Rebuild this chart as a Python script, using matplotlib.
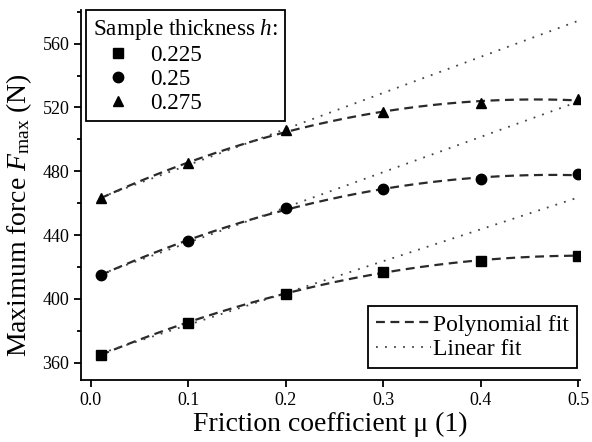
import matplotlib
matplotlib.use("Agg")
import matplotlib.pyplot as plt
from matplotlib.lines import Line2D
from matplotlib.ticker import MultipleLocator
import numpy as np

plt.rcParams['font.family'] = ['Liberation Serif', 'DejaVu Serif']
plt.rcParams['mathtext.fontset'] = 'custom'
plt.rcParams['mathtext.rm'] = 'Liberation Serif'
plt.rcParams['mathtext.it'] = 'Liberation Serif:italic'

# friction coefficient and max force for each sample thickness
mu = np.array([0.01, 0.1, 0.2, 0.3, 0.4, 0.5])
f_0225 = np.array([365, 385, 403, 417, 424, 427])
f_025 = np.array([415, 436, 457, 469, 475, 478])
f_0275 = np.array([463, 485, 506, 517, 523, 525])
thickness = ['0.225', '0.25', '0.275']
markers = ['s', 'o', '^']

fig = plt.figure(figsize=(5.92, 4.42), dpi=100)
ax = fig.add_axes([0.137, 0.140, 0.843, 0.837])

mu_fine = np.linspace(0.01, 0.5, 200)
for f, m in zip([f_0225, f_025, f_0275], markers):
    # quadratic over all points, straight line over the first three
    poly = np.polyfit(mu, f, 2)
    lin = np.polyfit(mu[:3], f[:3], 1)
    ax.plot(mu_fine, np.polyval(poly, mu_fine), color='#2a2a2a', lw=1.6,
            dashes=(4, 2.5), zorder=2)
    ax.plot(mu_fine, np.polyval(lin, mu_fine), color='#444444', lw=1.3,
            linestyle=(0, (1, 4)), zorder=2)
    ax.plot(mu, f, m, color='black', ms=7.5, zorder=3)

ax.set_xlim(-0.01, 0.502)
ax.set_ylim(349, 581)
ax.xaxis.set_major_locator(MultipleLocator(0.1))
ax.yaxis.set_major_locator(MultipleLocator(40))
ax.yaxis.set_minor_locator(MultipleLocator(20))
ax.xaxis.set_major_formatter(plt.FuncFormatter(lambda v, p: f'{v:.1f}'))
for s in ['top', 'right']:
    ax.spines[s].set_visible(False)
for s in ['left', 'bottom']:
    ax.spines[s].set_linewidth(1.3)
ax.tick_params(which='major', direction='out', length=5, width=1.3, labelsize=13)
ax.tick_params(which='minor', direction='out', length=3, width=1.3)

ax.set_xlabel('Friction coefficient μ (1)', fontsize=20, labelpad=2)
ax.set_ylabel('Maximum force $F_{\\mathrm{max}}$ (N)', fontsize=20)
ax.yaxis.set_label_coords(-0.094, 0.447)

h1 = [Line2D([], [], marker=m, color='black', ls='none', ms=7.5) for m in markers]
leg1 = ax.legend(h1, thickness, title='Sample thickness $h$:', loc='upper left',
                 bbox_to_anchor=(0.01, 1.0), borderaxespad=0, fontsize=16.7,
                 title_fontsize=16.7, fancybox=False, edgecolor='black',
                 framealpha=1, handlelength=2.15, handletextpad=0.3,
                 labelspacing=0.12, borderpad=0.3)
leg1._legend_box.align = 'left'
leg1.get_frame().set_linewidth(1.3)
ax.add_artist(leg1)

h2 = [Line2D([], [], color='#2a2a2a', lw=1.6, dashes=(4, 2.5)),
      Line2D([], [], color='#444444', lw=1.3, linestyle=(0, (1, 4)))]
leg2 = ax.legend(h2, ['Polynomial fit', 'Linear fit'], loc='lower right',
                 bbox_to_anchor=(0.994, 0.032), borderaxespad=0, fontsize=17,
                 fancybox=False, edgecolor='black', framealpha=1,
                 handlelength=2.3, handletextpad=0.1, labelspacing=0.12,
                 borderpad=0.35)
leg2.get_frame().set_linewidth(1.3)

fig.savefig('out.png', dpi=100)
